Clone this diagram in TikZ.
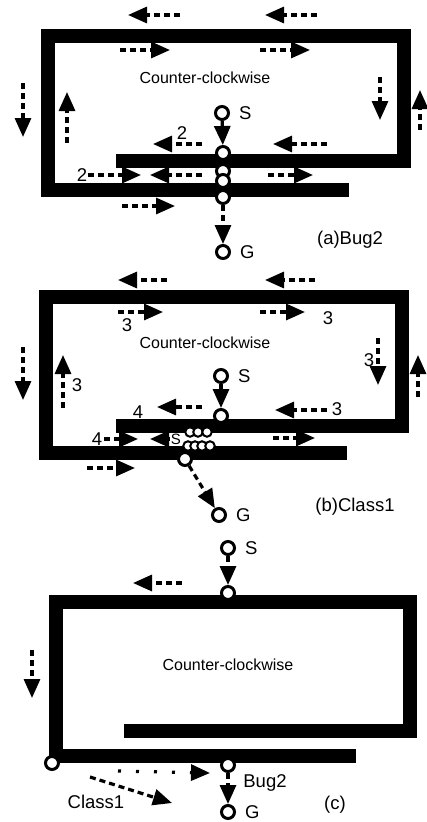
\documentclass[tikz,border=0pt]{standalone}
\usepackage{fontspec}
\setmainfont{Liberation Sans}
\usetikzlibrary{arrows.meta,positioning}

\tikzset{
  wall/.style={line width=14pt},
  path arrow/.style={line width=3.2pt, dash pattern=on 6pt off 4pt,
    -{Triangle[length=19pt,width=16pt]}},
  dot arrow/.style={line width=3.2pt, dash pattern=on 3pt off 15pt,
    -{Triangle[length=19pt,width=16pt]}},
  spot/.style={circle, draw, line width=3pt, fill=white,
    minimum size=13pt, inner sep=0pt},
  small spot/.style={spot, minimum size=9.5pt, line width=2pt},
  lbl/.style={font=\fontsize{18.5}{18.5}\selectfont, inner sep=0pt},
  title/.style={font=\fontsize{16}{16}\selectfont, inner sep=0pt},
}

\begin{document}
\begin{tikzpicture}[x=1pt, y=-1pt]
\useasboundingbox (0,0) rectangle (427,822);

% ---- (a) Bug2 ----
\draw[wall] (116,161) -- (403.5,161) -- (403.5,36) -- (47.5,36)
    -- (47.5,189.5) -- (349,189.5);
\node[title] (ccwA) at (205,78) {Counter-clockwise};
\node[spot] (sA) at (222,113) {};
\node[lbl, right=9pt of sA] (sAlbl) {S};
\node[spot] (hitA) at (223,153) {};
\node[spot] (inA) at (223,171) {};
\node[spot] (outA) at (223,181) {};
\node[spot] (leaveA) at (223,197) {};
\node[spot] (gA) at (223,252) {};
\node[lbl, right=9pt of gA] (gAlbl) {G};
\draw[path arrow] (sA) -- (hitA);
\draw[path arrow] (leaveA) -- (gA);
\foreach \x/\y/\u/\v in {180/15/128/15, 317/15/265/15,
    120/50/170/50, 260/50/310/50, 23/83/23/137, 67/143/67/92,
    380/77/380/120, 420/130/420/90, 202/144/153/144, 327/144/273/144,
    88/175/141/175, 202/175/150/175, 268/175/313/175, 122/206/175/206}
  \draw[path arrow] (\x,\y) -- (\u,\v);
\node[lbl] (twoA) at (182,133) {2};
\node[lbl] (twoB) at (82,175) {2};
\node[lbl] (capA) at (350,240) {(a)Bug2};

% ---- (b) Class1 ----
\draw[wall] (116,426) -- (401.5,426) -- (401.5,297) -- (46,297)
    -- (46,452.5) -- (347,452.5);
\node[title] (ccwB) at (205,343) {Counter-clockwise};
\node[spot] (sB) at (221,376) {};
\node[lbl, right=9pt of sB] (sBlbl) {S};
\node[spot] (hitB) at (221,416) {};
\foreach \xp in {190,198,207}
  \node[small spot] at (\xp,432) {};
\foreach \xp in {188,195,202,210}
  \node[small spot] at (\xp,446) {};
\node[lbl, font=\fontsize{15}{15}\selectfont] (sMid) at (176,439) {S};
\node[spot] (leaveB) at (185,459) {};
\node[spot] (gB) at (219,515) {};
\node[lbl, right=9pt of gB] (gBlbl) {G};
\draw[path arrow] (sB) -- (hitB);
\draw[path arrow] (leaveB) -- (gB);
\foreach \x/\y/\u/\v in {167/280/118/280, 315/280/265/280,
    118/312/163/312, 260/312/305/312, 23/347/23/400, 63/408/63/355,
    378/338/378/385, 418/397/418/355, 202/407/157/407, 327/410/275/410,
    104/439/138/439, 170/439/150/439, 273/438/315/438, 87/468/135/468}
  \draw[path arrow] (\x,\y) -- (\u,\v);
\node[lbl] at (127,325) {3};
\node[lbl] at (328,318) {3};
\node[lbl] at (77,385) {3};
\node[lbl] at (369,360) {3};
\node[lbl] at (337,409) {3};
\node[lbl] at (138,412) {4};
\node[lbl] at (97,439) {4};
\node[lbl] (capB) at (355,507) {(b)Class1};

% ---- (c) ----
\draw[wall] (124,730.5) -- (410,730.5) -- (410,601.5) -- (55.5,601.5)
    -- (55.5,755.5) -- (356,755.5);
\node[title] (ccwC) at (228,665) {Counter-clockwise};
\node[spot] (sC) at (228,548) {};
\node[lbl, right=9pt of sC] (sClbl) {S};
\node[spot] (hitC) at (228,593) {};
\node[spot] (cornerC) at (52,763) {};
\node[spot] (leaveC) at (228,765) {};
\node[spot] (gC) at (228,812) {};
\node[lbl, right=9pt of gC] (gClbl) {G};
\draw[path arrow] (sC) -- (hitC);
\draw[path arrow] (leaveC) -- (gC);
\foreach \x/\y/\u/\v in {182/583/133/583, 32/650/32/698, 90/777/172/803}
  \draw[path arrow] (\x,\y) -- (\u,\v);
\draw[dot arrow] (118,771) -- (210,773);
\node[lbl] (bugC) at (265,783) {Bug2};
\node[lbl] (classC) at (96,802) {Class1};
\node[lbl] (capC) at (335,805) {(c)};
\end{tikzpicture}
\end{document}
